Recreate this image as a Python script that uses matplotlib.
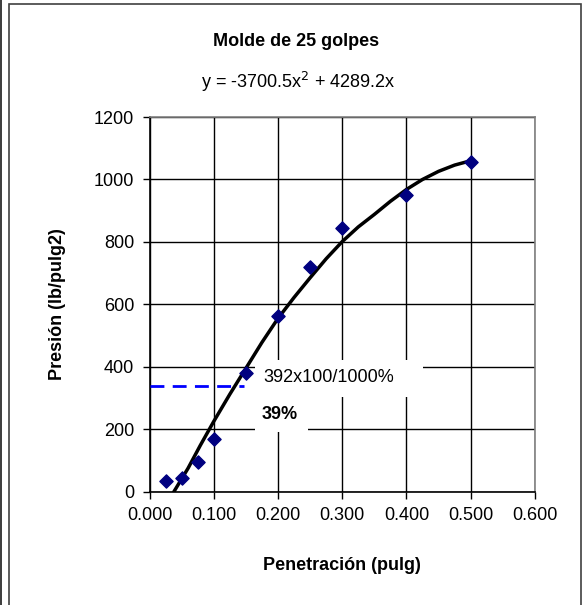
import matplotlib
matplotlib.use('Agg')
import matplotlib.pyplot as plt
import matplotlib.patches as mpatches

plt.rcParams['font.family'] = ['Liberation Sans', 'DejaVu Sans']

# --- data ---
penetracion = [0.025, 0.050, 0.075, 0.100, 0.150, 0.200, 0.250, 0.300, 0.400, 0.500]
presion = [35, 44, 95, 170, 379, 564, 719, 844, 950, 1056]

# fitted curve as drawn
curva_x = [0.038, 0.060, 0.079, 0.100, 0.125, 0.150, 0.175, 0.200, 0.225, 0.250,
           0.275, 0.300, 0.325, 0.350, 0.375, 0.400, 0.425, 0.450, 0.475, 0.500]
curva_y = [0, 75, 148, 225, 312, 395, 478, 555, 622, 685,
           746, 801, 848, 888, 930, 968, 1000, 1026, 1046, 1060]

cbr_y = 338
cbr_x = 0.147

xticks = [0.0, 0.1, 0.2, 0.3, 0.4, 0.5, 0.6]
yticks = [0, 200, 400, 600, 800, 1000, 1200]

fig = plt.figure(figsize=(5.84, 6.05), dpi=100)
ax = fig.add_axes([0.256, 0.1873, 0.660, 0.6193])

ax.grid(True, color='black', linewidth=1.0)
ax.set_axisbelow(True)

ax.plot(curva_x, curva_y, color='black', linewidth=2.5, zorder=3)
ax.scatter(penetracion, presion, marker='D', s=45, color='#000080', zorder=4)
ax.plot([0, cbr_x], [cbr_y, cbr_y], color='#0000ff', linewidth=2,
        linestyle=(0, (5, 3)), zorder=3, clip_on=False)

# white label boxes that hide the gridlines
ax.add_patch(mpatches.Rectangle((0.164, 302), 0.262, 119, facecolor='white',
                                edgecolor='none', zorder=2))
ax.add_patch(mpatches.Rectangle((0.164, 191), 0.083, 111, facecolor='white',
                                edgecolor='none', zorder=2))
ax.text(0.177, 366, '392x100/1000%', fontsize=13, ha='left', va='center', zorder=5)
ax.text(0.175, 248, '39%', fontsize=13, fontweight='bold', ha='left',
        va='center', zorder=5)

ax.set_xlim(0, 0.6)
ax.set_ylim(0, 1200)
ax.set_xticks(xticks)
ax.set_yticks(yticks)
ax.set_xticklabels(['%.3f' % v for v in xticks])
ax.tick_params(axis='both', labelsize=13, direction='out', length=5, width=1,
               color='black', pad=6)

for s in ['left', 'bottom']:
    ax.spines[s].set_color('black')
    ax.spines[s].set_linewidth(1.2)
for s in ['top', 'right']:
    ax.spines[s].set_color('#808080')
    ax.spines[s].set_linewidth(1.2)

ax.set_xlabel('Penetración (pulg)', fontsize=13, fontweight='bold', labelpad=24)
ax.set_ylabel('Presión (lb/pulg2)', fontsize=13, fontweight='bold', labelpad=20)

fig.text(0.507, 0.932, 'Molde de 25 golpes', fontsize=13, fontweight='bold',
         ha='center', va='center')
fig.text(0.511, 0.865, r'y = -3700.5x$^2$ + 4289.2x', fontsize=13,
         ha='center', va='center')

# chart frame
fig.patches.append(mpatches.Rectangle((9 / 584, -0.1), 572 / 584, 1.093, transform=fig.transFigure,
                                      fill=False, edgecolor='#404040', linewidth=1.2))
fig.patches.append(mpatches.Rectangle((1 / 584, -0.1), 0.0, 1.2, transform=fig.transFigure,
                                      fill=False, edgecolor='#404040', linewidth=1.2))

plt.savefig('out.png', dpi=100)
